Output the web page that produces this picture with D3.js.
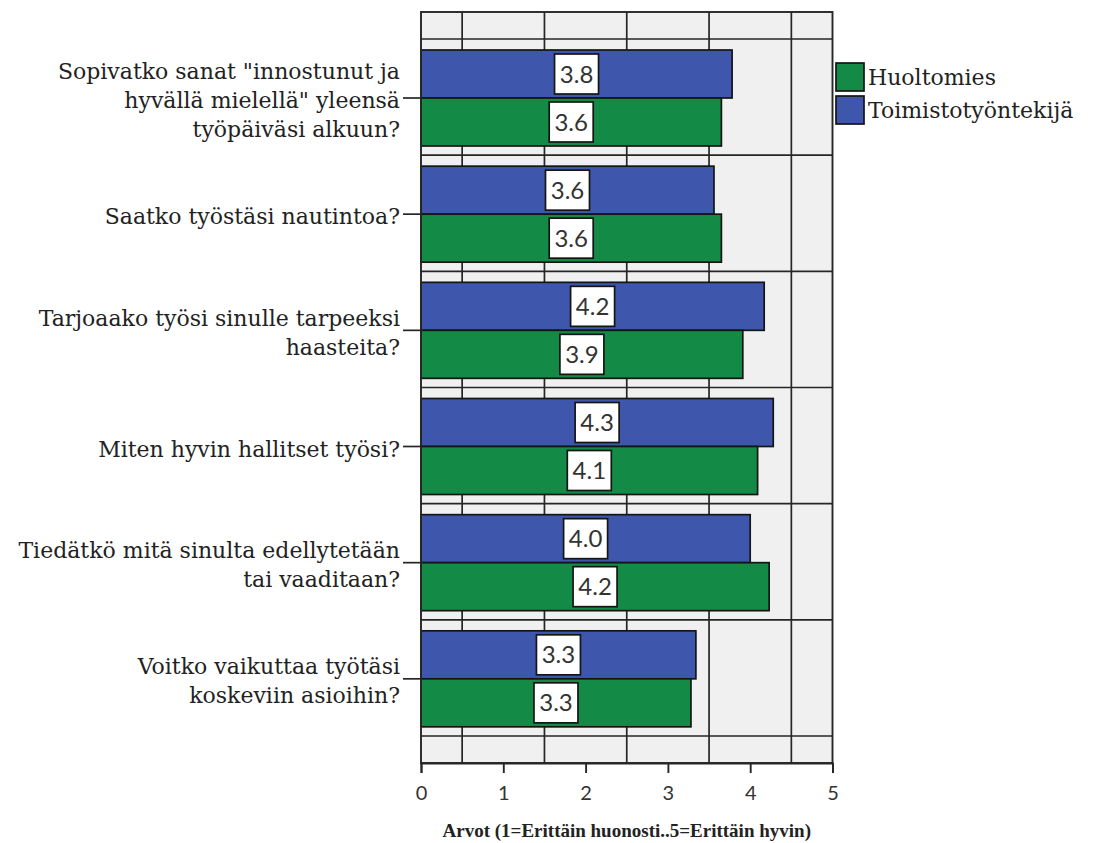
<!DOCTYPE html>
<html lang="fi">
<head>
<meta charset="utf-8">
<script src="https://cdn.jsdelivr.net/npm/d3@7"></script>
<style>
  html, body { margin: 0; padding: 0; background: #ffffff; }
  svg { display: block; }
</style>
</head>
<body>
<svg id="chart" width="1096" height="843"></svg>
<script>
// Survey questions (line breaks mark the wrapped label lines)
const categories = [
  "Sopivatko sanat \"innostunut ja\nhyvällä mielellä\" yleensä\ntyöpäiväsi alkuun?",
  "Saatko työstäsi nautintoa?",
  "Tarjoaako työsi sinulle tarpeeksi\nhaasteita?",
  "Miten hyvin hallitset työsi?",
  "Tiedätkö mitä sinulta edellytetään\ntai vaaditaan?",
  "Voitko vaikuttaa työtäsi\nkoskeviin asioihin?"
];

// Group means per question
const huoltomies = [3.65, 3.65, 3.91, 4.09, 4.23, 3.28];
const toimistotyontekija = [3.78, 3.56, 4.17, 4.28, 4.00, 3.34];

// Series order inside each question band (top to bottom) and legend order
const barOrder = ["Toimistotyöntekijä", "Huoltomies"];
const legendOrder = ["Huoltomies", "Toimistotyöntekijä"];

// Axis ticks and the half-step grid lines
const xTicks = [0, 1, 2, 3, 4, 5];
const gridValues = [0.5, 1.5, 2.5, 3.5, 4.5];
const axisTitle = "Arvot (1=Erittäin huonosti..5=Erittäin hyvin)";

const colors = { "Huoltomies": "#138a45", "Toimistotyöntekijä": "#3e56ab" };
const valuesBySeries = { "Huoltomies": huoltomies, "Toimistotyöntekijä": toimistotyontekija };

const svg = d3.select("#chart");
const plotTop = 12, plotBottom = 763;
const serif = "'DejaVu Serif', 'Liberation Serif', serif";

const x = d3.scaleLinear().domain([0, 5]).range([421, 832.5]);
const y = d3.scaleBand().domain(categories).range([39, 736]).padding(0);
const sub = d3.scaleBand().domain(barOrder).range([11, 107]).padding(0);

const ink = "#262626";

// Plot background
svg.append("rect")
  .attr("x", x(0)).attr("y", plotTop)
  .attr("width", x(5) - x(0)).attr("height", plotBottom - plotTop)
  .attr("fill", "#f0f0f0");

// Vertical grid lines at half steps
svg.append("g").selectAll("line").data(gridValues).join("line")
  .attr("x1", d => x(d)).attr("x2", d => x(d))
  .attr("y1", plotTop).attr("y2", plotBottom)
  .attr("stroke", ink).attr("stroke-width", 1.7);

// Horizontal separators between question bands
const boundaries = categories.map(c => y(c)).concat([y(categories[categories.length - 1]) + y.bandwidth()]);
svg.append("g").selectAll("line").data(boundaries).join("line")
  .attr("x1", x(0)).attr("x2", x(5))
  .attr("y1", d => d).attr("y2", d => d)
  .attr("stroke", ink).attr("stroke-width", 1.7);

// Bars
const rows = [];
categories.forEach((c, i) => {
  barOrder.forEach(s => rows.push({ category: c, series: s, value: valuesBySeries[s][i] }));
});

svg.append("g").selectAll("rect").data(rows).join("rect")
  .attr("x", x(0))
  .attr("y", d => y(d.category) + sub(d.series))
  .attr("width", d => x(d.value) - x(0))
  .attr("height", sub.bandwidth())
  .attr("fill", d => colors[d.series])
  .attr("stroke", "#151515").attr("stroke-width", 1.7);

// Value labels in white boxes at the middle of each bar
const fmt = d3.format(".1f");
const lab = svg.append("g").selectAll("g").data(rows).join("g")
  .attr("transform", d => `translate(${(x(0) + x(d.value)) / 2},${y(d.category) + sub(d.series) + sub.bandwidth() / 2})`);
lab.append("rect")
  .attr("x", -22).attr("y", -20).attr("width", 44).attr("height", 40)
  .attr("fill", "#ffffff").attr("stroke", "#151515").attr("stroke-width", 1.7);
lab.append("text")
  .attr("text-anchor", "middle").attr("dy", "0.36em")
  .attr("font-family", "Lato, 'DejaVu Sans', sans-serif").attr("font-size", 24)
  .attr("fill", "#333")
  .text(d => fmt(d.value));

// Plot frame
svg.append("rect")
  .attr("x", x(0)).attr("y", plotTop)
  .attr("width", x(5) - x(0)).attr("height", plotBottom - plotTop)
  .attr("fill", "none").attr("stroke", ink).attr("stroke-width", 1.9);

// Category ticks and wrapped labels
const lineH = 29;
const catG = svg.append("g").selectAll("g").data(categories).join("g")
  .attr("transform", c => `translate(0,${y(c) + sub("Huoltomies")})`);
catG.append("line")
  .attr("x1", 403).attr("x2", x(0))
  .attr("stroke", ink).attr("stroke-width", 1.7);
catG.append("text")
  .attr("text-anchor", "end")
  .attr("font-family", serif)
  .attr("font-size", 22).attr("fill", "#222")
  .each(function (c) {
    const lines = c.split("\n");
    const n = lines.length;
    d3.select(this).selectAll("tspan").data(lines).join("tspan")
      .attr("x", 400)
      .attr("y", (d, i) => 10 + (i - (n - 1) / 2) * lineH)
      .text(d => d);
  });

// X axis
const axis = svg.append("g")
  .attr("transform", `translate(0,${plotBottom})`)
  .call(d3.axisBottom(x).tickValues(xTicks).tickSize(10).tickPadding(13).tickFormat(d3.format("d")));
axis.select(".domain").attr("stroke", ink).attr("stroke-width", 1.9);
axis.selectAll(".tick line").attr("stroke", ink).attr("stroke-width", 1.9);
axis.selectAll(".tick text")
  .attr("font-family", "Lato, 'DejaVu Sans', sans-serif").attr("font-size", 20).attr("fill", "#333");

svg.append("text")
  .attr("x", (x(0) + x(5)) / 2).attr("y", 837)
  .attr("text-anchor", "middle")
  .attr("font-family", "'Liberation Serif', 'DejaVu Serif', serif")
  .attr("font-size", 19).attr("font-weight", "bold").attr("fill", "#222")
  .text(axisTitle);

// Legend
const leg = svg.append("g").selectAll("g").data(legendOrder).join("g")
  .attr("transform", (d, i) => `translate(836,${63 + i * 33})`);
leg.append("rect")
  .attr("width", 28).attr("height", 28)
  .attr("fill", d => colors[d]).attr("stroke", "#151515").attr("stroke-width", 1.7);
leg.append("text")
  .attr("x", 32).attr("y", 22)
  .attr("font-family", serif)
  .attr("font-size", 22).attr("fill", "#222")
  .text(d => d);
</script>
</body>
</html>
